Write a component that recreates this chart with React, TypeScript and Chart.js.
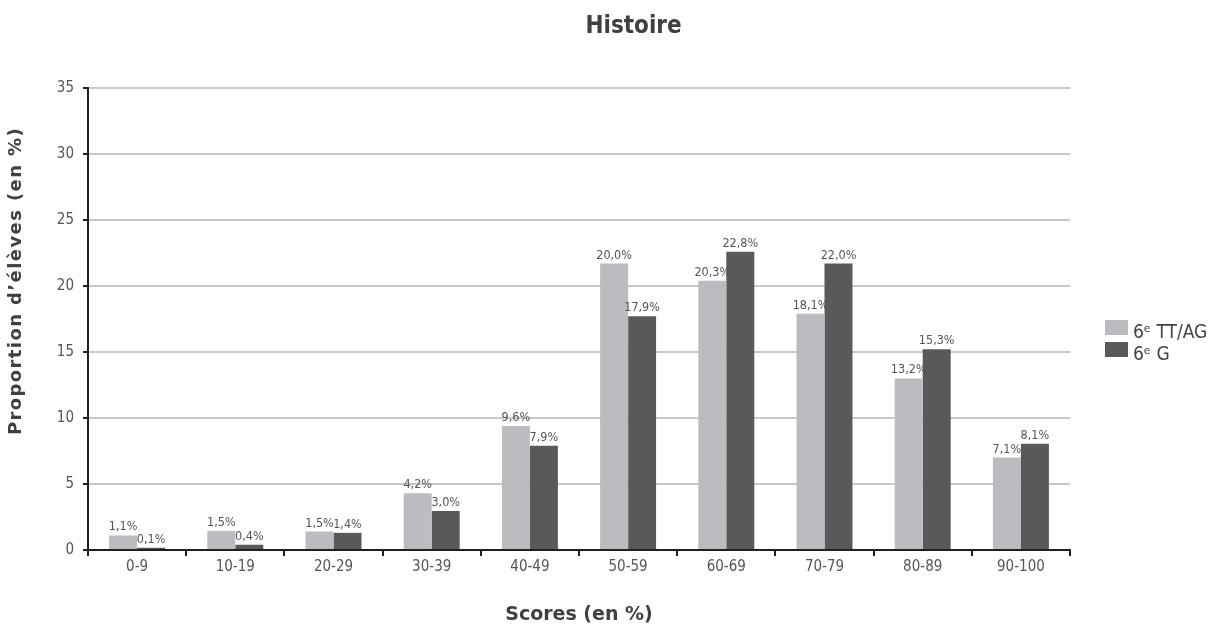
import React, { useEffect, useRef } from "react";
import { Chart, registerables } from "chart.js";

Chart.register(...registerables);

const categories = ["0-9", "10-19", "20-29", "30-39", "40-49", "50-59", "60-69", "70-79", "80-89", "90-100"];
const seriesNames = ["6ᵉ TT/AG", "6ᵉ G"];
const valuesTT = [1.1, 1.45, 1.4, 4.3, 9.4, 21.7, 20.4, 17.9, 13.0, 7.0];
const valuesG = [0.17, 0.4, 1.3, 2.95, 7.9, 17.7, 22.6, 21.7, 15.2, 8.05];
const labelsTT = ["1,1%", "1,5%", "1,5%", "4,2%", "9,6%", "20,0%", "20,3%", "18,1%", "13,2%", "7,1%"];
const labelsG = ["0,1%", "0,4%", "1,4%", "3,0%", "7,9%", "17,9%", "22,8%", "22,0%", "15,3%", "8,1%"];
const yTicks = [0, 5, 10, 15, 20, 25, 30, 35];
const chartTitle = "Histoire";
const xTitle = "Scores (en %)";
const yTitle = "Proportion d’élèves (en %)";

const FONT = "'DejaVu Sans', sans-serif";
const CFONT = "'DejaVu Sans Condensed', 'DejaVu Sans', sans-serif";
const LIGHT = "#bbbcbf";
const DARK = "#58595b";
const AXIS = "#231f20";
const TEXT = "#555555";
const TITLE = "#404040";

const valueLabelsPlugin = {
  id: "valueLabels",
  afterDatasetsDraw(chart: any) {
    const ctx = chart.ctx;
    const all = [labelsTT, labelsG];
    ctx.save();
    ctx.font = `12.5px ${CFONT}`;
    ctx.fillStyle = TEXT;
    ctx.textAlign = "center";
    ctx.textBaseline = "alphabetic";
    chart.data.datasets.forEach((ds: any, di: number) => {
      const meta = chart.getDatasetMeta(di);
      meta.data.forEach((el: any, i: number) => {
        ctx.fillText(all[di][i], el.x, el.y - 5);
      });
    });
    ctx.restore();
  },
};

const textPlugin = {
  id: "titlesAndLegend",
  afterDraw(chart: any) {
    const ctx = chart.ctx;
    const area = chart.chartArea;
    ctx.save();
    ctx.fillStyle = TITLE;
    ctx.textAlign = "center";
    ctx.textBaseline = "alphabetic";

    ctx.font = `bold 24px ${CFONT}`;
    ctx.fillText(chartTitle, 633.5, 33);

    ctx.font = `bold 19px ${FONT}`;
    ctx.fillText(xTitle, (area.left + area.right) / 2, 620);

    ctx.save();
    ctx.translate(21, 281);
    ctx.rotate(-Math.PI / 2);
    ctx.font = `bold 18px ${FONT}`;
    (ctx as any).letterSpacing = "1.4px";
    ctx.fillText(yTitle, 0, 0);
    ctx.restore();

    ctx.font = `19px ${CFONT}`;
    ctx.textAlign = "left";
    chart.data.datasets.forEach((ds: any, i: number) => {
      const y = 320 + i * 22;
      ctx.fillStyle = ds.backgroundColor;
      ctx.fillRect(1105, y, 23, 15);
      ctx.fillStyle = "#444444";
      ctx.fillText(ds.label, 1133, y + 18);
    });
    ctx.restore();
  },
};

function App() {
  const ref = useRef<HTMLCanvasElement | null>(null);
  useEffect(() => {
    document.body.style.margin = "0";
    if (!ref.current) return;
    const chart = new Chart(ref.current, {
      type: "bar",
      data: {
        labels: categories,
        datasets: [
          { label: seriesNames[0], data: valuesTT, backgroundColor: LIGHT, borderWidth: 0 },
          { label: seriesNames[1], data: valuesG, backgroundColor: DARK, borderWidth: 0 },
        ],
      },
      options: {
        animation: false,
        responsive: false,
        devicePixelRatio: 1,
        layout: { padding: { left: 0, right: 141, top: 88, bottom: 0 } },
        plugins: {
          legend: { display: false },
          tooltip: { enabled: false },
          title: { display: false },
        },
        datasets: { bar: { categoryPercentage: 0.57, barPercentage: 1 } },
        scales: {
          x: {
            offset: true,
            grid: {
              display: true,
              offset: true,
              drawOnChartArea: false,
              drawTicks: true,
              tickLength: 6,
              tickColor: AXIS,
              tickWidth: 2,
              color: AXIS,
              lineWidth: 2,
            },
            border: { display: true, color: AXIS, width: 2 },
            ticks: { color: TEXT, font: { family: CFONT, size: 15 }, padding: 2, maxRotation: 0 },
            title: { display: false },
            afterFit(scale: any) {
              scale.height = 77;
            },
          },
          y: {
            min: 0,
            max: 35,
            afterBuildTicks(scale: any) {
              scale.ticks = yTicks.map((v) => ({ value: v }));
            },
            grid: {
              color: "#c8c8c8",
              lineWidth: 2,
              tickColor: AXIS,
              tickWidth: 2,
              tickLength: 5,
            },
            border: { display: true, color: AXIS, width: 2 },
            ticks: { color: TEXT, font: { family: CFONT, size: 15 }, padding: 9 },
            title: { display: false },
            afterFit(scale: any) {
              scale.width = 88;
            },
          },
        },
      },
      plugins: [valueLabelsPlugin, textPlugin],
    } as any);
    return () => chart.destroy();
  }, []);
  return (
    <div style={{ width: 1211, height: 627 }}>
      <canvas ref={ref} width={1211} height={627} style={{ display: "block" }} />
    </div>
  );
}

export default App;
